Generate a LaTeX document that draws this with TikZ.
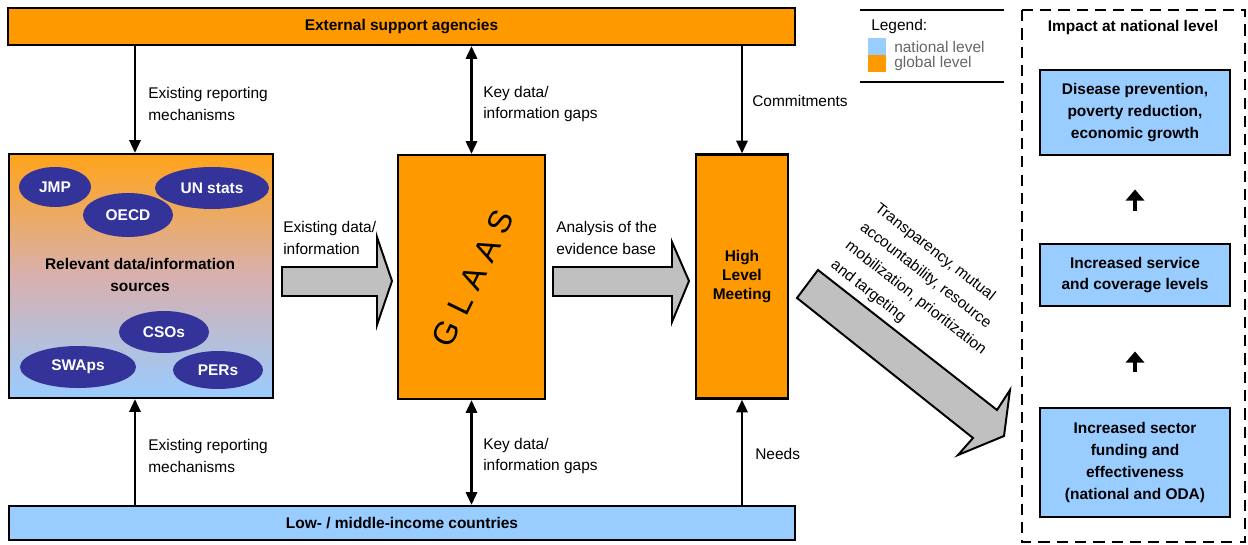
\documentclass[tikz,border=0pt]{standalone}
\usepackage{fontspec}
\setmainfont{Liberation Sans}
\usetikzlibrary{shapes.geometric,arrows.meta,calc}
\definecolor{globalorange}{HTML}{FF9900}
\definecolor{nationalblue}{HTML}{99CCFF}
\definecolor{sourcenavy}{HTML}{333399}
\definecolor{arrowgray}{HTML}{C0C0C0}
\definecolor{midpink}{HTML}{D8B0AE}
\definecolor{legendgray}{HTML}{666666}
\tikzset{
  txt/.style={font=\fontsize{11pt}{15.6pt}\selectfont, align=left, inner sep=0pt},
  boldtxt/.style={font=\fontsize{11pt}{15.6pt}\selectfont\bfseries, align=center},
  levelbar/.style={draw, line width=1.6pt, boldtxt, inner sep=0pt},
  srcoval/.style={ellipse, fill=sourcenavy, text=white, boldtxt, inner sep=0pt},
  arr/.style={line width=1.6pt, -{Triangle[length=9pt,width=8pt]}},
  dblarr/.style={line width=1.6pt, {Triangle[length=9pt,width=8pt]}-{Triangle[length=9pt,width=8pt]}},
  blockarr/.style={draw, line width=1.4pt, fill=arrowgray, line join=miter},
  impact/.style={draw, line width=2pt, fill=nationalblue, boldtxt, minimum width=4.75cm, inner sep=0pt},
  uparr/.style={line width=3pt, -{Triangle[length=8pt,width=13pt]}},
  impactframe/.style={line width=1.4pt, dash pattern=on 8pt off 5pt}
}
\begin{document}
\begin{tikzpicture}[x=0.025cm,y=-0.025cm]
    \useasboundingbox (0,0) rectangle (1248,545);
    % level bars
    \node[levelbar, fill=globalorange, minimum width=19.675cm, minimum height=0.925cm] (ext) at (401.5,26.5) {External support agencies};
    \node[levelbar, fill=nationalblue, minimum width=19.65cm, minimum height=0.85cm] (low) at (402,523) {Low- / middle-income countries};

    % sources
    \node[draw, line width=1.6pt, top color=globalorange!90!white, bottom color=nationalblue, middle color=midpink, minimum width=6.6cm, minimum height=6.1cm] (src) at (141,276) {};
    \node[boldtxt] (srctxt) at (140,275) {Relevant data/information\\sources};
    \node[srcoval, minimum width=1.8cm, minimum height=1cm] (jmp) at (55,187) {JMP};
    \node[srcoval, minimum width=2.25cm, minimum height=1.1cm] (oecd) at (128,215) {OECD};
    \node[srcoval, minimum width=2.85cm, minimum height=1.05cm] (unstats) at (212,188) {UN stats};
    \node[srcoval, minimum width=2.25cm, minimum height=1.05cm] (csos) at (164,332) {CSOs};
    \node[srcoval, minimum width=2.9cm, minimum height=1.05cm] (swaps) at (78,367) {SWAps};
    \node[srcoval, minimum width=2.25cm, minimum height=0.95cm] (pers) at (218,370) {PERs};

    \node[draw, line width=1.6pt, fill=globalorange, minimum width=3.675cm, minimum height=6.1cm] (glaas) at (471.5,277) {};
    \node[rotate=64, font=\fontsize{23pt}{23pt}\selectfont] (glaastxt) at (473,278) {G\hspace{7pt}L\hspace{7pt}A\hspace{7pt}A\hspace{7pt}S};
    \node[draw, line width=1.6pt, fill=globalorange, minimum width=2.3cm, minimum height=6.1cm, font=\fontsize{11pt}{13.5pt}\selectfont\bfseries, align=center] (hlm) at (742,276.5) {High\\Level\\Meeting};

    \draw[arr] ([xshift=-0.15cm]src.north |- ext.south) -- ([xshift=-0.15cm]src.north);
    \draw[dblarr] (glaas.north |- ext.south) -- (glaas.north);
    \draw[arr] (hlm.north |- ext.south) -- (hlm.north);
    \draw[arr] ([xshift=-0.15cm]src.south |- low.north) -- ([xshift=-0.15cm]src.south);
    \draw[dblarr] (glaas.south) -- (glaas.south |- low.north);
    \draw[arr] (hlm.south |- low.north) -- (hlm.south);

    \node[txt, anchor=west] (reptop) at (148,104) {Existing reporting\\mechanisms};
    \node[txt, anchor=west] (gapstop) at (483,104) {Key data/\\information gaps};
    \node[txt, anchor=west] (commit) at (752,101) {Commitments};
    \node[txt, anchor=west] (repbot) at (148,456) {Existing reporting\\mechanisms};
    \node[txt, anchor=west] (gapsbot) at (483,456) {Key data/\\information gaps};
    \node[txt, anchor=west] (needs) at (755,454) {Needs};

    % block arrows
    \draw[blockarr] (282,267) -- (377,267) -- (377,237) -- (392,281) -- (377,325) -- (377,296) -- (282,296) -- cycle;
    \draw[blockarr] (553,267) -- (672,267) -- (672,242) -- (689,281) -- (672,322) -- (672,296) -- (553,296) -- cycle;
    \draw[blockarr] (818,270) -- (997,410) -- (1010,390) -- (1004,436) -- (958,455) -- (973,438) -- (797,298) -- cycle;
    \node[txt, anchor=west] (datainfo) at (283,238) {Existing data/\\information};
    \node[txt, anchor=west] (analysis) at (556,238) {Analysis of the\\evidence base};
    \node[txt, rotate=-38, anchor=north west, font=\fontsize{11pt}{17pt}\selectfont] (goals) at (881,201) {Transparency, mutual\\accountability, resource\\mobilization, prioritization\\and targeting};

    % legend
    \draw[line width=0.8pt] (860,10) -- (1004,10);
    \draw[line width=0.8pt] (860,82) -- (1004,82);
    \node[txt, anchor=west] (legend) at (871,27) {Legend:};
    \fill[nationalblue] (868,38) rectangle (886,55);
    \fill[globalorange] (868,55) rectangle (886,72);
    \node[txt, anchor=west, text=legendgray] (natlevel) at (894,47) {national level};
    \node[txt, anchor=west, text=legendgray] (glolevel) at (894,64) {global level};

    % impact at national level
    \draw[impactframe] (1022,10) rectangle (1245,542);
    \node[boldtxt] (impacttitle) at (1133,28) {Impact at national level};
    \node[impact, minimum height=2.125cm] (imp1) at (1135,112.5) {Disease prevention,\\poverty reduction,\\economic growth};
    \node[impact, minimum height=1.55cm] (imp2) at (1135,275) {Increased service\\and coverage levels};
    \node[impact, minimum height=2.725cm] (imp3) at (1135,462.5) {Increased sector\\funding and\\effectiveness\\(national and ODA)};
    \draw[uparr] ($(imp2.north)+(0,-32)$) -- ($(imp1.south)+(0,33)$);
    \draw[uparr] ($(imp3.north)+(0,-35)$) -- ($(imp2.south)+(0,44)$);
\end{tikzpicture}
\end{document}
